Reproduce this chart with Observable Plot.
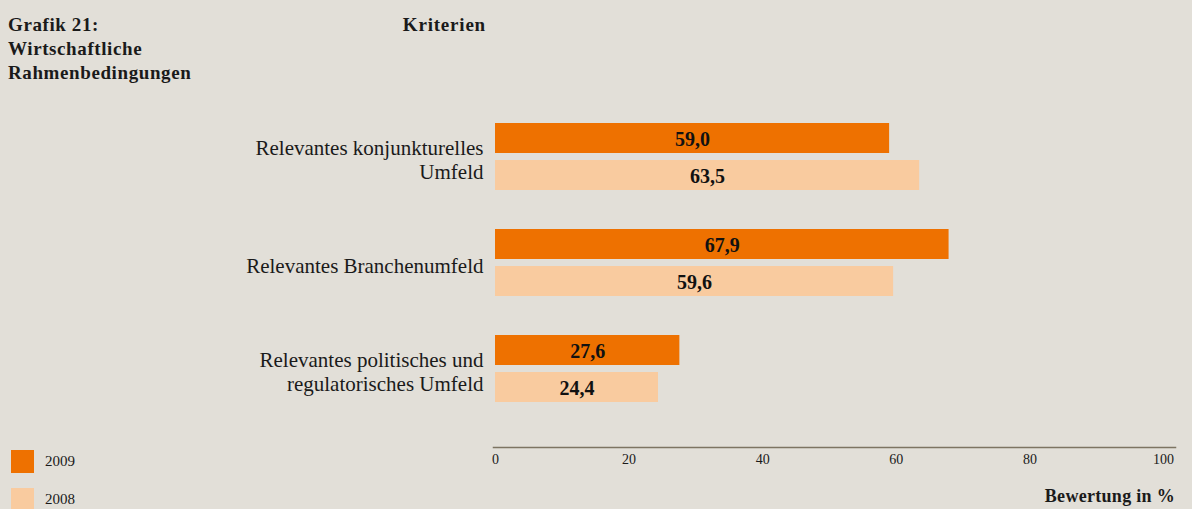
<!DOCTYPE html>
<html>
<head>
<meta charset="utf-8">
<script src="https://cdn.jsdelivr.net/npm/d3@7"></script>
<script src="https://cdn.jsdelivr.net/npm/@observablehq/plot@0.6"></script>
<style>
  html, body { margin: 0; padding: 0; background: #e2dfd8; }
  #chart { position: relative; width: 1192px; height: 509px; background: #e2dfd8; overflow: hidden;
           font-family: "Liberation Serif", "DejaVu Serif", serif; color: #1a1a1a; }
  #chart svg { position: absolute; left: 0; }
  .title { position: absolute; left: 8px; top: 13px; font-weight: bold; font-size: 19px; letter-spacing: 0.6px; line-height: 24px; }
  .kriterien { position: absolute; right: calc(1192px - 486px); top: 13px; font-weight: bold; font-size: 19px; letter-spacing: 0.8px; line-height: 24px; }
  .xlabel { position: absolute; right: 17px; top: 485px; font-weight: bold; font-size: 18px; letter-spacing: 0.3px; line-height: 22px; }
  .legend-item { position: absolute; left: 11px; display: flex; align-items: center; font-size: 15px; }
  .legend-item .sw { width: 23px; height: 23px; margin-right: 11px; }
</style>
</head>
<body>
<div id="chart">
  <div class="title">Grafik 21:<br>Wirtschaftliche<br>Rahmenbedingungen</div>
  <div class="kriterien">Kriterien</div>
  <div class="xlabel">Bewertung in %</div>
</div>
<script>
// ---- data ----
const categories = [
  "Relevantes konjunkturelles Umfeld",
  "Relevantes Branchenumfeld",
  "Relevantes politisches und regulatorisches Umfeld"
];
const categoryLabels = [
  "Relevantes konjunkturelles\nUmfeld",
  "Relevantes Branchenumfeld",
  "Relevantes politisches und\nregulatorisches Umfeld"
];
const years = ["2009", "2008"];
const values2009 = [59.0, 67.9, 27.6];
const values2008 = [63.5, 59.6, 24.4];
const yearColors = ["#ee7100", "#f9cb9f"];
const xTicks = [0, 20, 40, 60, 80, 100];

// ---- table ----
const rows = [];
categories.forEach((c, i) => {
  rows.push({category: c, year: years[0], value: values2009[i]});
  rows.push({category: c, year: years[1], value: values2008[i]});
});
const fmt = v => v.toFixed(1).replace(".", ",");

const chart = document.getElementById("chart");
const W = 1192, ML = 495, MR = 29;

const main = Plot.plot({
  width: W,
  height: 509,
  marginLeft: ML,
  marginRight: MR,
  marginTop: 123,
  marginBottom: 106,
  style: {background: "transparent", fontFamily: "Liberation Serif, DejaVu Serif, serif", color: "#1a1a1a"},
  x: {domain: [0, 100], axis: null},
  y: {domain: years, paddingInner: 0.18, paddingOuter: 0, axis: null},
  fy: {domain: categories, paddingInner: 0.36, paddingOuter: 0, axis: null, label: null},
  color: {domain: years, range: yearColors},
  marks: [
    Plot.barX(rows, {x: "value", y: "year", fy: "category", fill: "year"}),
    Plot.text(rows, {x: d => d.value / 2, y: "year", fy: "category", text: d => fmt(d.value),
      fontWeight: "bold", fontSize: 20, letterSpacing: "0.8px", fill: "#111", dy: 1}),
    Plot.text(categories, {fy: d => d, text: (d, i) => categoryLabels[i], frameAnchor: "left",
      textAnchor: "end", dx: -12, dy: 2, fontSize: 21, letterSpacing: "0.8px", lineHeight: 1.15, fill: "#1a1a1a"})
  ]
});
main.style.top = "0px";
chart.appendChild(main);

const axis = Plot.plot({
  width: W,
  height: 40,
  marginLeft: ML,
  marginRight: MR,
  marginTop: 7,
  marginBottom: 32,
  style: {background: "transparent", fontFamily: "Liberation Serif, DejaVu Serif, serif", color: "#1a1a1a", overflow: "visible"},
  x: {domain: [0, 100], axis: null},
  marks: [
    Plot.frame({anchor: "top", stroke: "#7d7462", strokeWidth: 1.5, insetRight: -12, insetLeft: -2}),
    Plot.axisX(xTicks, {anchor: "bottom", tickSize: 0, tickPadding: 6, fontSize: 14, label: null, tickFormat: d => String(d)})
  ]
});
axis.style.top = "440px";
chart.appendChild(axis);

// legend
years.forEach((y, i) => {
  const item = document.createElement("div");
  item.className = "legend-item";
  item.style.top = (450 + i * 38) + "px";
  item.innerHTML = `<div class="sw" style="background:${yearColors[i]}"></div><span>${y}</span>`;
  chart.appendChild(item);
});
</script>
</body>
</html>
